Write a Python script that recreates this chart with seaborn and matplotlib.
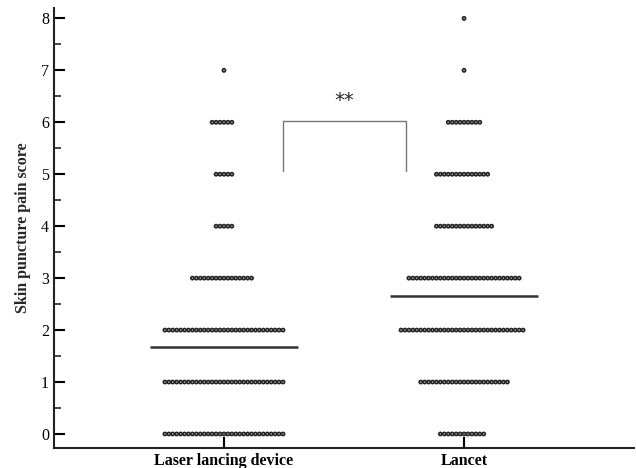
import numpy as np
import pandas as pd
import seaborn as sns
import matplotlib.pyplot as plt
import matplotlib.patheffects as pe
from matplotlib.ticker import MultipleLocator

scores = [0, 1, 2, 3, 4, 5, 6, 7, 8]
laser_counts = [31, 31, 31, 16, 5, 5, 6, 1, 0]
lancet_counts = [12, 23, 32, 29, 15, 14, 9, 1, 1]
groups = ['Laser lancing device', 'Lancet']
group_means = [1.68, 2.65]

# bracket heights for the significance mark
bracket_low = 5.07
bracket_high = 6.03
sig_label = '**'

df = pd.concat([
    pd.DataFrame({'group': groups[0], 'score': np.repeat(scores, laser_counts)}),
    pd.DataFrame({'group': groups[1], 'score': np.repeat(scores, lancet_counts)}),
], ignore_index=True)

sns.set_style('ticks')
plt.rcParams['font.family'] = ['Liberation Serif', 'DejaVu Serif']

fig = plt.figure(figsize=(6.36, 4.68), dpi=100)
ax = fig.add_axes([54 / 636, 1 - 448 / 468, 580 / 636, 440 / 468])

sns.swarmplot(data=df, x='group', y='score', order=groups, ax=ax,
              size=2.0, color='#9a9a9a', edgecolor='#1e1e1e', linewidth=0.7,
              warn_thresh=1.0)
# thicker outline drawn as a stroke so the swarm spacing stays tight
for coll in ax.collections:
    coll.set_path_effects([pe.withStroke(linewidth=1.5, foreground='#2a2a2a')])

# mean lines
for i, m in enumerate(group_means):
    ax.hlines(m, i - 0.31, i + 0.31, color='#333333', lw=1.8, zorder=5)

# significance bracket
ax.plot([0.245, 0.245, 0.76, 0.76],
        [bracket_low, bracket_high, bracket_high, bracket_low],
        color='#777777', lw=1.0)
ax.text(0.5, bracket_high + 0.2, sig_label, ha='center', va='bottom',
        fontsize=14, family='DejaVu Sans')

ax.set_xlim(-0.708, 1.708)
ax.set_ylim(-0.27, 8.2)
ax.yaxis.set_major_locator(MultipleLocator(1))
ax.yaxis.set_minor_locator(MultipleLocator(0.5))
ax.tick_params(axis='both', which='major', direction='in', length=8, width=1.5,
               labelsize=11.5, colors='black')
ax.tick_params(axis='y', which='minor', direction='in', length=5, width=1.2)
ax.set_xlabel('')
ax.set_ylabel('Skin puncture pain score', fontsize=11.5, fontweight='bold',
              labelpad=7)
for lbl in ax.get_xticklabels():
    lbl.set_fontweight('bold')
    lbl.set_fontsize(11.5)

for side in ['left', 'bottom']:
    ax.spines[side].set_linewidth(1.5)
    ax.spines[side].set_color('#222222')
sns.despine(ax=ax)

fig.savefig('out.png', dpi=100)
plt.close(fig)
